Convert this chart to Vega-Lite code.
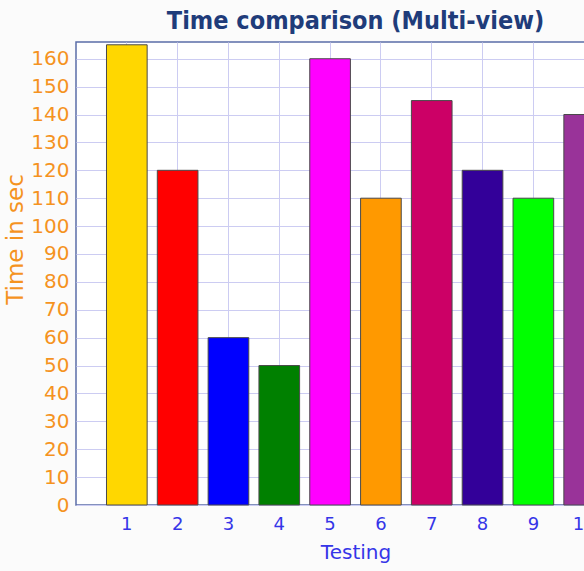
{
  "$schema": "https://vega.github.io/schema/vega-lite/v6.json",
  "autosize": "none",
  "width": 559,
  "height": 463,
  "padding": {"left": 76, "top": 42, "right": 0, "bottom": 66},
  "background": "#fbfbfb",
  "title": {
    "text": "Time comparison (Multi-view)",
    "font": "DejaVu Sans Condensed, DejaVu Sans",
    "fontSize": 25,
    "fontWeight": "bold",
    "color": "#1f3c7a",
    "anchor": "middle",
    "offset": 8
  },
  "config": {
    "view": {"fill": "#ffffff", "stroke": "#5b6ea8", "strokeWidth": 1.5},
    "axis": {"labelFont": "DejaVu Sans", "titleFont": "DejaVu Sans", "titleFontWeight": "normal", "ticks": false, "domain": false, "gridColor": "#ccccf2", "gridWidth": 1}
  },
  "data": {
    "values": [
      {"test": "1", "time": 165},
      {"test": "2", "time": 120},
      {"test": "3", "time": 60},
      {"test": "4", "time": 50},
      {"test": "5", "time": 160},
      {"test": "6", "time": 110},
      {"test": "7", "time": 145},
      {"test": "8", "time": 120},
      {"test": "9", "time": 110},
      {"test": "10", "time": 140}
    ]
  },
  "mark": {"type": "bar", "stroke": "#4a4a4a", "strokeWidth": 1},
  "encoding": {
    "x": {
      "field": "test",
      "type": "ordinal",
      "sort": null,
      "scale": {"paddingInner": 0.2, "paddingOuter": 0.6},
      "axis": {
        "labelAngle": 0,
        "labelColor": "#3535e8",
        "labelFontSize": 18,
        "labelPadding": 10,
        "grid": true,
        "bandPosition": 0.5,
        "title": "Testing",
        "titleColor": "#3535e8",
        "titleFontSize": 20,
        "titlePadding": 9
      }
    },
    "y": {
      "field": "time",
      "type": "quantitative",
      "scale": {"domain": [0, 166], "nice": false},
      "axis": {
        "values": [0, 10, 20, 30, 40, 50, 60, 70, 80, 90, 100, 110, 120, 130, 140, 150, 160],
        "labelColor": "#f5931f",
        "labelFontSize": 20,
        "labelPadding": 7,
        "title": "Time in sec",
        "titleColor": "#f5931f",
        "titleFontSize": 23,
        "titleY": 197,
        "titlePadding": 3
      }
    },
    "color": {
      "field": "test",
      "type": "ordinal",
      "sort": null,
      "scale": {
        "domain": ["1", "2", "3", "4", "5", "6", "7", "8", "9", "10"],
        "range": ["#ffd700", "#ff0000", "#0000ff", "#008000", "#ff00ff", "#ff9900", "#cc0066", "#330099", "#00ff00", "#993399"]
      },
      "legend": null
    }
  }
}
